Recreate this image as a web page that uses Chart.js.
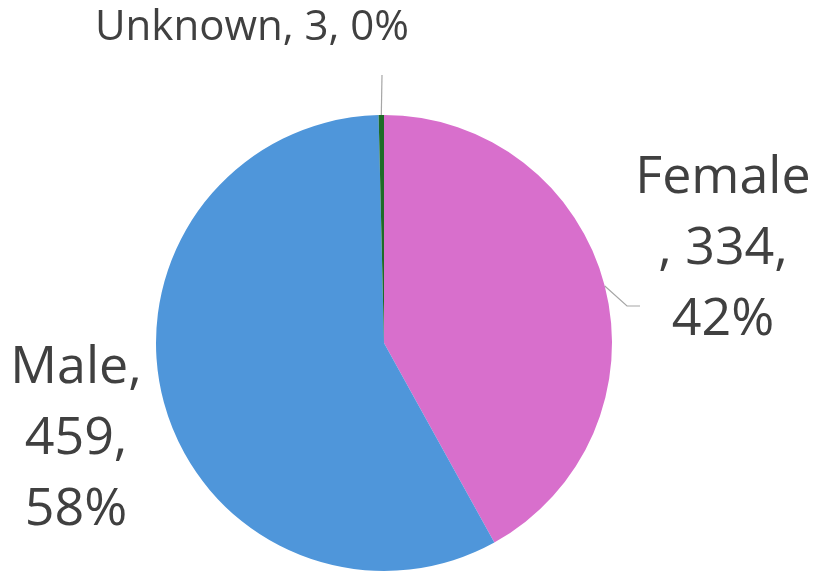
<!DOCTYPE html>
<html>
<head>
<meta charset="utf-8">
<script src="https://cdn.jsdelivr.net/npm/chart.js@4"></script>
<style>
  html, body { margin: 0; padding: 0; background: #fff; }
  #wrap { width: 819px; height: 574px; position: relative; }
</style>
</head>
<body>
<div id="wrap"><canvas id="pie"></canvas></div>
<script>
// dữ liệu
const categories = ['Female', 'Male', 'Unknown'];
const counts = [334, 459, 3];
const percents = ['42%', '58%', '0%'];
const sliceColors = ['#D86FCC', '#4F96DA', '#1E6B28'];

// nhãn: dòng chữ, tâm x, baseline dòng đầu, cỡ chữ
const labelLayout = [
    { lines: ['Female', ', ' + counts[0] + ',', percents[0]], x: 723, y: 193, size: 52, leader: [[627, 306], [640, 306]] },
    { lines: [categories[1] + ',', counts[1] + ',', percents[1]], x: 76, y: 383, size: 52, leader: null },
    { lines: [categories[2] + ', ' + counts[2] + ', ' + percents[2]], x: 252, y: 40, size: 42, leader: [[382, 75]] }
];

const labelPlugin = {
    id: 'excelLabels',
    afterDraw(chart) {
        const ctx = chart.ctx;
        const arcs = chart.getDatasetMeta(0).data;
        ctx.save();
        arcs.forEach((arc, i) => {
            const lay = labelLayout[i];
            const p = arc.getProps(['x', 'y', 'startAngle', 'endAngle', 'outerRadius'], true);
            const mid = (p.startAngle + p.endAngle) / 2;
            const ex = p.x + Math.cos(mid) * p.outerRadius;
            const ey = p.y + Math.sin(mid) * p.outerRadius;
            if (lay.leader) {
                ctx.strokeStyle = '#A6A6A6';
                ctx.lineWidth = 1.2;
                ctx.beginPath();
                ctx.moveTo(ex, ey);
                lay.leader.forEach(pt => ctx.lineTo(pt[0], pt[1]));
                ctx.stroke();
            }
            ctx.fillStyle = '#404040';
            ctx.font = lay.size + 'px "Open Sans"';
            ctx.textAlign = 'center';
            ctx.textBaseline = 'alphabetic';
            const lh = Math.round(lay.size * 1.362);
            lay.lines.forEach((t, k) => ctx.fillText(t, lay.x, lay.y + k * lh));
        });
        ctx.restore();
    }
};

new Chart(document.getElementById('pie').getContext('2d'), {
    type: 'pie',
    data: {
        labels: categories,
        datasets: [{ data: counts, backgroundColor: sliceColors, borderWidth: 0 }]
    },
    options: {
        responsive: true,
        maintainAspectRatio: false,
        animation: false,
        layout: { padding: { left: 156, right: 207, top: 115, bottom: 3 } },
        plugins: { legend: { display: false }, tooltip: { enabled: false } }
    },
    plugins: [labelPlugin]
});
</script>
</body>
</html>
